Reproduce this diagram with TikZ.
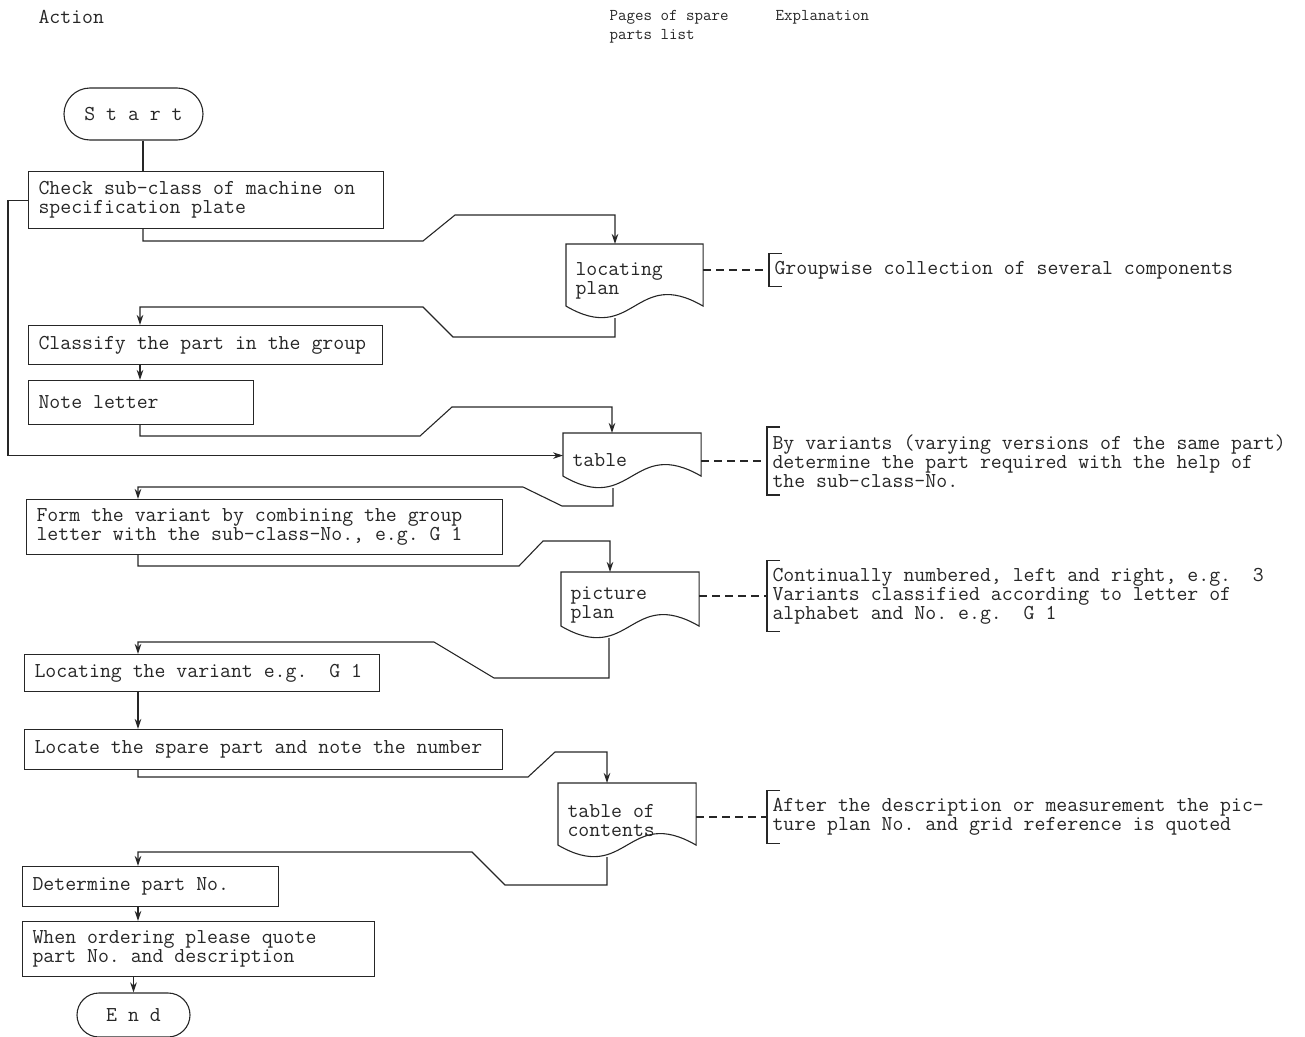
\documentclass[tikz,border=0pt]{standalone}
\usepackage{tikz}
\usetikzlibrary{shapes.misc,arrows.meta}
\newcommand{\ttype}{\fontsize{21.2}{19}\selectfont\ttfamily\frenchspacing}
\newcommand{\ttsmall}{\fontsize{16.5}{19}\selectfont\ttfamily\frenchspacing}
\tikzstyle{terminal}=[rounded rectangle,draw,minimum height=52pt,inner sep=0pt,font=\ttype]
\tikzstyle{action}=[rectangle,draw,anchor=north west,inner xsep=10pt,inner ysep=0pt,align=flush left,font=\ttype]
\tikzstyle{doc}=[rectangle,anchor=north west,inner xsep=9pt,inner ysep=0pt,align=flush left,font=\ttype]
\tikzstyle{expl}=[anchor=west,inner xsep=5pt,inner ysep=7pt,align=flush left,font=\ttype]
\tikzstyle{header}=[anchor=west,inner sep=0pt,align=flush left,font=\ttype]
\tikzstyle{link}=[dash pattern=on 8pt off 5pt]
\newcommand{\docshape}[1]{\draw (#1.north west) -- (#1.north east) -- ([yshift=12pt]#1.south east)
  .. controls ([yshift=52pt]#1.south) and ([yshift=-28pt]#1.south) .. ([yshift=12pt]#1.south west) -- cycle;}
\newcommand{\explbracket}[1]{\draw ([xshift=13pt]#1.north west) -- (#1.north west) -- (#1.south west) -- ([xshift=13pt]#1.south west);}

\begin{document}
\begin{tikzpicture}[x=1pt,y=-1pt,line width=1.1pt,color=black!85,>={Stealth[length=10pt,width=6.5pt]}]
\useasboundingbox (0,0) rectangle (1305,1036);
% column heads
\node[header] at (38,17) (hact) {Action};
\node[header,font=\ttsmall] at (609,26.5) (hpag) {Pages of spare\\parts list};
\node[header,font=\ttsmall] at (775,17) (hexp) {Explanation};
% action column
\node[terminal,minimum width=139pt] at (133.5,114) (start) {S t a r t};
\node[action,text width=335pt,minimum height=57pt] at (28,171) (chk) {Check sub-class of machine on\\specification plate};
\node[action,text width=334pt,minimum height=39pt] at (28,325) (cls) {Classify the part in the group};
\node[action,text width=205pt,minimum height=44pt] at (28,380) (note) {Note letter};
\node[action,text width=456pt,minimum height=55pt] at (26,499) (form) {Form the variant by combining the group\\letter with the sub-class-No., e.g. G 1};
\node[action,text width=335pt,minimum height=37pt] at (24,654) (loc) {Locating the variant e.g.~~G 1};
\node[action,text width=458pt,minimum height=40pt] at (24,729) (spare) {Locate the spare part and note the number};
\node[action,text width=236pt,minimum height=40pt] at (22,866) (det) {Determine part No.};
\node[action,text width=332pt,minimum height=55pt] at (22,921) (order) {When ordering please quote\\part No. and description};
\node[terminal,minimum width=113pt,minimum height=44pt] at (133.5,1015) (end) {E n d};
% spare parts list pages
\node[doc,text width=118pt,minimum height=73pt] at (566,244) (locp) {locating\\plan};
\node[doc,text width=119pt,minimum height=54pt] at (563,433) (tbl) {table};
\node[doc,text width=119pt,minimum height=65pt] at (561,572) (pic) {picture\\plan};
\node[doc,text width=119pt,minimum height=73pt] at (558,783) (toc) {table of\\contents};
\docshape{locp}
\docshape{tbl}
\docshape{pic}
\docshape{toc}
% explanations
\node[expl] at (769,270) (grp) {Groupwise collection of several components};
\node[expl] at (767,461) (var) {By variants (varying versions of the same part)\\determine the part required with the help of\\the sub-class-No.};
\node[expl] at (767,596) (num) {Continually numbered, left and right, e.g.~~3\\Variants classified according to letter of\\alphabet and No. e.g.~~G 1};
\node[expl] at (767,817) (dsc) {After the description or measurement the pic-\\ture plan No. and grid reference is quoted};
\explbracket{grp}
\explbracket{var}
\explbracket{num}
\explbracket{dsc}
\draw[link] (grp.west -| locp.east) -- (grp.west);
\draw[link] (var.west -| tbl.east) -- (var.west);
\draw[link] (num.west -| pic.east) -- (num.west);
\draw[link] (dsc.west -| toc.east) -- (dsc.west);
% flow
\draw ([xshift=9.5pt]start.south) -- ([xshift=115pt]chk.north west);
\draw[->] ([xshift=115pt]chk.south west) |- (423,241) -- (455,215) -| ([xshift=49pt]locp.north west);
\draw[->] ([xshift=49pt]locp.south west) |- (453,337) -- (423,307) -| ([xshift=112pt]cls.north west);
\draw[->] ([xshift=112pt]cls.south west) -- ([xshift=112pt]note.north west);
\draw[->] ([xshift=112pt]note.south west) |- (420,436) -- (452,407) -| ([xshift=49pt]tbl.north west);
\draw[->] (chk.west) -- ++(-20,0) |- ([yshift=5pt]tbl.west);
\draw[->] ([xshift=50pt]tbl.south west) |- (562,506) -- (523,487) -| ([xshift=112pt]form.north west);
\draw[->] ([xshift=112pt]form.south west) |- (519,566) -- (543,541) -| ([xshift=49pt]pic.north west);
\draw[->] ([xshift=48pt]pic.south west) |- (494,678) -- (434,642) -| ([xshift=114pt]loc.north west);
\draw[->] ([xshift=114pt]loc.south west) -- ([xshift=114pt]spare.north west);
\draw[->] ([xshift=114pt]spare.south west) |- (528,777) -- (555,752) -| ([xshift=49pt]toc.north west);
\draw[->] ([xshift=49pt]toc.south west) |- (505,885) -- (472,852) -| ([xshift=116pt]det.north west);
\draw[->] ([xshift=116pt]det.south west) -- ([xshift=116pt]order.north west);
\draw[->] (order.south -| end.north) -- (end.north);
\end{tikzpicture}
\end{document}
